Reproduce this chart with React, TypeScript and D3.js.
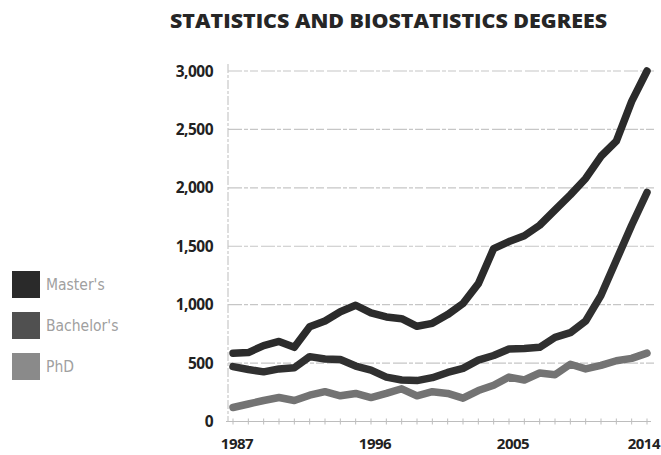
import React from "react";
import * as d3 from "d3";

const years: number[] = d3.range(1987, 2015);
const masters: number[] = [585, 590, 650, 685, 635, 810, 860, 940, 995, 930, 895, 880, 815, 840, 915, 1010, 1180, 1480, 1540, 1590, 1680, 1810, 1940, 2080, 2270, 2400, 2740, 3000];
const bachelors: number[] = [470, 445, 425, 450, 460, 555, 535, 530, 475, 440, 380, 355, 350, 375, 420, 455, 525, 565, 620, 625, 635, 720, 760, 860, 1080, 1380, 1680, 1960];
const phd: number[] = [120, 150, 180, 205, 180, 225, 255, 220, 240, 205, 240, 280, 220, 255, 240, 200, 265, 310, 380, 355, 415, 400, 490, 450, 480, 520, 540, 585];
const yTicks: number[] = [0, 500, 1000, 1500, 2000, 2500, 3000];
const xTickLabels: number[] = [1987, 1996, 2005, 2014];
const seriesNames: string[] = ["Master's", "Bachelor's", "PhD"];
const lineColors: string[] = ["#2b2b2b", "#303030", "#737373"];
const swatchColors: string[] = ["#2a2a2a", "#505050", "#8a8a8a"];
const title = "STATISTICS AND BIOSTATISTICS DEGREES";

export default function App() {
  const x = d3.scaleLinear().domain([1987, 2014]).range([233, 647]);
  const y = d3.scaleLinear().domain([0, 3000]).range([421.5, 71]);
  const series = [masters, bachelors, phd];
  const line = d3
    .line<number>()
    .x((_, i) => x(years[i]))
    .y((d) => y(d));
  const fontBold = "'Open Sans', 'Noto Sans', sans-serif";
  return (
    <svg
      width={661}
      height={455}
      style={{ position: "absolute", left: 0, top: 0, background: "#fff" }}
    >
      <text
        x={170}
        y={28}
        textLength={437}
        lengthAdjust="spacingAndGlyphs"
        fontFamily={fontBold}
        fontWeight={800}
        fontSize={19.5}
        fill="#262626"
      >
        {title}
      </text>
      {yTicks.filter((t) => t > 0).map((t) => (
        <line
          key={"g" + t}
          x1={228}
          x2={655}
          y1={y(t)}
          y2={y(t)}
          stroke="#c6c6c6"
          strokeWidth={1.2}
          strokeDasharray="14 2 4 2 8 3"
        />
      ))}
      <line x1={228} x2={228} y1={64} y2={421.5} stroke="#c8c8c8" strokeWidth={1.2} strokeDasharray="9 2 3 2" />
      <line x1={226} x2={651} y1={y(0)} y2={y(0)} stroke="#bdbdbd" strokeWidth={1.2} />
      {years.map((yr) => (
        <line
          key={"t" + yr}
          x1={x(yr)}
          x2={x(yr)}
          y1={y(0) - 3}
          y2={y(0) + 3}
          stroke="#bdbdbd"
          strokeWidth={1}
        />
      ))}
      {yTicks.map((t) => (
        <text
          key={"yl" + t}
          x={213}
          y={y(t) + 5.5}
          textAnchor="end"
          fontFamily={fontBold}
          fontWeight={700}
          fontSize={15.5}
          letterSpacing={-0.5}
          fill="#222"
        >
          {d3.format(",")(t)}
        </text>
      ))}
      {xTickLabels.map((t, i) => (
        <text
          key={"xl" + t}
          x={i === xTickLabels.length - 1 ? 660 : x(t) + 4}
          y={449}
          textAnchor={i === xTickLabels.length - 1 ? "end" : "middle"}
          fontFamily={fontBold}
          fontWeight={700}
          fontSize={15}
          letterSpacing={-0.5}
          fill="#222"
        >
          {t}
        </text>
      ))}
      {[2, 1, 0].map((i) => (
        <path
          key={"s" + i}
          d={line(series[i]) || ""}
          fill="none"
          stroke={lineColors[i]}
          strokeWidth={7.5}
          strokeLinejoin="round"
          strokeLinecap="round"
        />
      ))}
      {seriesNames.map((name, i) => (
        <g key={"lg" + i} transform={`translate(12, ${271 + i * 41})`}>
          <rect width={28} height={27} fill={swatchColors[i]} />
          <text
            x={34}
            y={19}
            fontFamily="'Liberation Sans Narrow', 'DejaVu Sans Condensed', sans-serif"
            fontSize={15.5}
            fill="#a0a0a0"
          >
            {name}
          </text>
        </g>
      ))}
    </svg>
  );
}
